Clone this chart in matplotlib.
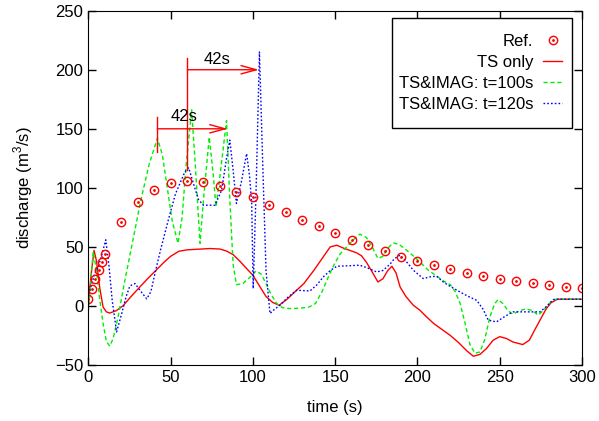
import matplotlib
matplotlib.use('Agg')
import matplotlib.pyplot as plt
from matplotlib.legend_handler import HandlerTuple
from matplotlib.patches import Rectangle

plt.rcParams['font.family'] = ['Liberation Sans', 'DejaVu Sans']
plt.rcParams['font.size'] = 12
plt.rcParams['mathtext.fontset'] = 'custom'
plt.rcParams['mathtext.rm'] = 'Liberation Sans'

# Reference measurements
ref_t = [0, 2.4, 4.3, 6.5, 8.5, 10.3, 20, 30, 40, 50, 60, 70, 80, 90, 100,
         110, 120, 130, 140, 150, 160, 170, 180, 190, 200, 210, 220, 230,
         240, 250, 260, 270, 280, 290, 300]
ref_q = [5.9, 14.7, 22.9, 30.5, 37.6, 44.4, 70.7, 87.6, 98.6, 104, 105.7,
         104.6, 101.4, 96.6, 91.9, 85.3, 79.2, 73.2, 67.3, 61.6, 55.9, 51.2,
         46.4, 41.8, 37.9, 34.5, 31.1, 28.3, 25.4, 23.2, 21.2, 19.5, 17.8,
         16.1, 15]

# TS only
ts_t = [0, 2, 3.5, 5, 7, 9, 11, 13, 17, 21, 26, 31, 36, 41, 46, 50, 55, 60,
        66, 74, 80, 84, 88, 92, 96, 100, 104, 108, 112, 116, 121, 126, 131,
        137, 142, 147, 151, 155, 159, 163, 166, 169, 172, 176, 179, 182,
        184.5, 187, 189.5, 193, 197.5, 201.5, 205, 210, 215, 220, 225, 230,
        234, 238, 242, 246, 250, 254, 258, 264, 268, 271, 274.5, 278, 281,
        285, 300]
ts_q = [2, 30, 47, 38, 15, -1, -5, -6, -4, 0, 8, 15.6, 23, 30, 37, 42, 46.3,
        47.5, 48, 48.6, 48.2, 46.5, 43.5, 38, 32, 26, 17, 8, 3, 0.6, 6, 12.5,
        19, 30, 40, 50, 51.4, 49, 47, 45, 42.5, 37, 30, 20.3, 23, 30, 33.6,
        28, 16, 8, 0.6, -3.6, -8.5, -15, -20, -25, -31, -38, -42.6, -41, -36,
        -29, -26, -27.5, -30.5, -32.7, -29, -21, -12, -3, 2.5, 5.7, 5.7]

# TS&IMAG: t=100s
g_t = [0, 1, 2, 3, 4, 5, 7, 9, 11, 13, 15, 18, 22, 27, 32, 37, 42, 45, 48,
       51, 54.5, 57, 59.5, 62.8, 65, 67.9, 70, 73.5, 76, 77.6, 80, 84, 86,
       88, 90, 94, 98, 102, 105, 108, 111, 114.5, 118, 122, 128, 134, 138,
       142, 146, 149, 153, 157, 161, 165, 169, 172.5, 176, 179, 182, 185.3,
       189, 193.4, 197, 201.5, 206, 211.7, 216, 220, 223, 226, 229, 232, 235,
       238, 241, 244, 247, 249, 252, 255, 258, 262, 266, 270, 273.5, 277,
       280, 283, 285, 300]
g_q = [-5, 10, 30, 46, 38, 30, 5, -15, -30, -34, -28, -10, 20, 55, 90, 120,
       142, 128, 100, 72, 53, 75, 120, 166, 120, 53, 90, 143, 110, 84, 110,
       157, 90, 35, 18, 19, 24, 29.7, 27, 19, 10, 2, -1.5, -2.2, -2, -1, 2,
       12, 25, 34, 44, 50, 56, 60.8, 58, 50, 40.2, 42, 49, 53.4, 52, 47.2,
       43, 37.3, 31, 25.2, 21, 18, 12, 2, -15, -33, -40, -39, -28, -9.3, 2,
       5.4, 2, -4, -7, -4, -2.5, -4, -7.9, -3, 2, 5.4, 5.7, 5.7]

# TS&IMAG: t=120s
b_t = [0, 2, 4, 6, 8, 10.6, 12.5, 14.5, 17.2, 20, 23, 25.3, 28.4, 31, 35.5,
       38, 40.5, 44, 48.6, 53, 58.7, 61, 63.8, 67, 69.9, 77, 81, 84, 86, 88,
       90, 93, 96.2, 98, 99.3, 100.2, 102, 104, 106, 108, 110.4, 113, 116.5,
       121, 126.6, 134.7, 139, 142.8, 147, 151, 158, 165, 170, 175.2, 179,
       183.3, 186, 189.4, 193, 197.5, 203.5, 207.6, 211.7, 215.7, 220, 225.8,
       231, 236, 240, 243, 248, 253, 258, 264, 268.3, 274.4, 278, 282.5, 285,
       300]
b_q = [10, 18, 28, 33, 42, 56, 35, 5, -22, -8, 8, 17, 19, 14, 6, 12, 27.4,
       48, 72.6, 95, 113.6, 117, 104, 90, 85.3, 85.3, 98, 125, 140.4, 115,
       86.8, 105, 129, 110, 86.8, 14.7, 100, 215, 120, 30, -6.4, -3, 0.6, 7,
       13.3, 12.7, 18, 24.6, 30, 33.6, 34, 34.5, 32, 28.8, 30, 35.3, 40, 43,
       38, 30.3, 23.2, 24.6, 25.2, 20.3, 16.5, 11.9, 8, 4.8, -3, -12, -13.5,
       -9, -5, -5, -5, -5, -1, 5.4, 5.7, 5.7]

labels = ['Ref.', 'TS only', 'TS&IMAG: t=100s', 'TS&IMAG: t=120s']

fig = plt.figure(figsize=(5.99, 4.21), dpi=100)
ax = fig.add_axes([0.1474, 0.133, 0.8242, 0.8416])

h_ts, = ax.plot(ts_t, ts_q, color='#ff0000', lw=1)
h_g, = ax.plot(g_t, g_q, color='#00ee00', lw=1, dashes=(3, 2))
h_b, = ax.plot(b_t, b_q, color='#0000ff', lw=1, dashes=(1.2, 1.5))
h_rc, = ax.plot(ref_t, ref_q, ls='none', marker='o', ms=6, mfc='none',
                mec='#ff0000', mew=1)
h_rd, = ax.plot(ref_t, ref_q, ls='none', marker='o', ms=1, mfc='#ff0000',
                mec='#ff0000')

# 42s delay annotations
for x0, x1, y, ylo, yhi, tx, ty in [(42, 84.7, 150, 130.5, 160, 58.3, 160),
                                     (60.2, 103.7, 200, 115, 209.6, 78.4, 209)]:
    ax.plot([x0, x0], [ylo, yhi], color='#ff0000', lw=1)
    ax.annotate('', xy=(x1, y), xytext=(x0, y),
                arrowprops=dict(arrowstyle='->,head_length=1.1,head_width=0.3',
                                color='#ff0000', lw=1, shrinkA=0, shrinkB=0,
                                mutation_scale=10))
    ax.text(tx, ty, '42s', ha='center', va='center', fontsize=12)

ax.set_xlim(0, 300)
ax.set_ylim(-50, 250)
ax.set_xticks(range(0, 301, 50))
ax.set_yticks(range(-50, 251, 50))
ax.tick_params(direction='in', top=True, right=True, length=6, width=1,
               labelsize=12)
ax.set_xlabel('time (s)', fontsize=12)
ax.set_ylabel('discharge (m$^3$/s)', fontsize=12)
ax.xaxis.set_label_coords(0.5, -0.1)
ax.yaxis.set_label_coords(-0.107, 0.5)

# gnuplot-style key: right-aligned text, sample on the right, roomy box
leg = ax.legend([(h_rc, h_rd), h_ts, h_g, h_b], labels,
                handler_map={tuple: HandlerTuple(ndivide=1)},
                loc='center right', bbox_to_anchor=(0.959, 0.824),
                borderaxespad=0, borderpad=0, frameon=False,
                markerfirst=False, handlelength=1.1, handletextpad=0.6,
                labelspacing=0.35, fontsize=12)
ax.add_patch(Rectangle((0.6145, 0.6698), 0.979 - 0.6145, 0.9785 - 0.6698,
                       transform=ax.transAxes, fill=True, fc='white',
                       ec='black', lw=1, zorder=4))
leg.set_zorder(5)

fig.savefig('out.png', dpi=100)
